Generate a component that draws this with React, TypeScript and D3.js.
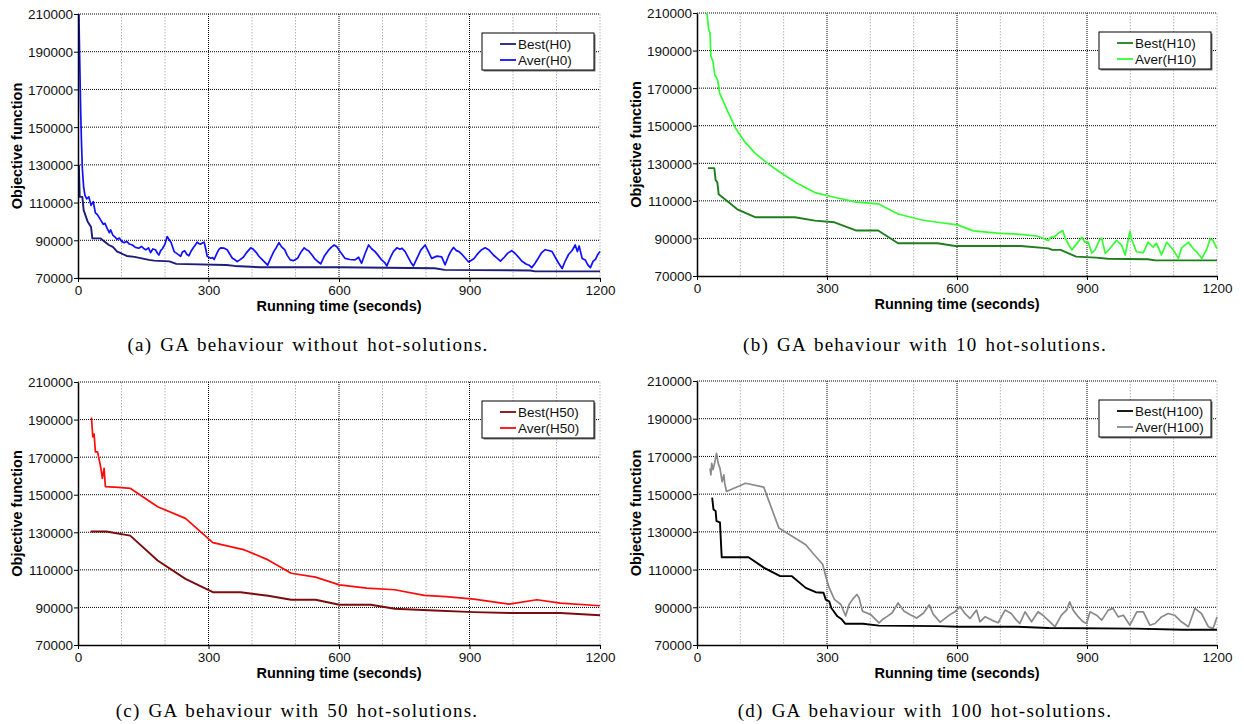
import React, { useEffect, useRef } from "react";
import * as d3 from "d3";

type Pt = [number, number];

// running time (s) vs objective value
const bestH0: Pt[] = [[2,130000],[4,113000],[10,113000],[13,106000],[22,100000],[30,97000],[33,91000],[52,91000],[60,89500],[71,87500],[80,86500],[90,84000],[100,83000],[112,81700],[130,81200],[163,79600],[175,79200],[210,78800],[226,77500],[341,76900],[360,76400],[418,75700],[600,75700],[820,75200],[843,74300],[1040,74000],[1051,73500],[1200,73500]];
const averH0: Pt[] = [[2,210000],[4,185000],[6,160000],[8,142000],[10,128000],[13,118000],[16,114000],[20,112000],[25,113000],[30,108500],[35,110500],[40,104500],[45,103500],[52,100800],[58,98500],[62,99000],[67,96300],[72,94000],[75,95500],[80,92800],[86,91500],[90,90500],[95,91200],[100,89500],[106,88700],[112,89400],[118,88000],[125,87500],[132,86200],[140,85800],[146,86800],[152,85500],[156,84900],[162,86000],[167,83500],[172,85400],[178,85000],[183,83000],[186,82200],[190,84500],[194,85500],[200,88000],[205,92000],[209,90500],[214,88800],[221,84000],[226,83200],[230,82500],[236,81500],[240,83800],[245,84500],[250,82600],[255,81800],[260,84200],[265,86000],[270,87600],[274,89000],[278,88200],[282,88000],[286,88600],[290,89000],[294,85000],[297,81500],[305,80500],[310,80800],[313,79800],[320,83500],[324,85200],[328,86000],[336,85800],[343,85000],[348,83000],[355,80500],[360,79800],[366,78700],[372,79600],[380,81000],[388,83600],[397,86000],[403,85200],[410,83500],[415,81800],[420,80500],[428,78700],[436,76800],[443,80500],[450,84000],[456,86200],[462,88700],[468,86500],[475,85000],[481,82000],[488,79600],[495,79200],[505,80500],[512,83500],[520,86000],[525,85000],[530,84500],[538,82200],[545,80000],[552,78600],[558,77500],[566,81500],[575,84500],[582,86200],[589,87500],[595,86600],[605,83200],[614,80400],[625,79800],[637,79600],[645,81000],[652,77800],[660,83000],[668,87500],[675,85500],[683,84000],[690,82000],[698,79600],[705,78200],[710,76400],[718,80800],[725,84000],[733,86000],[740,85200],[745,85800],[752,84000],[760,80500],[765,78400],[771,76400],[780,80800],[788,84800],[798,87500],[805,84200],[813,80400],[825,81600],[836,81200],[844,77000],[852,81800],[858,84500],[863,86200],[870,84500],[876,84000],[882,82700],[890,80600],[898,78500],[910,80200],[920,83200],[928,85000],[936,86000],[945,84800],[955,82200],[962,80800],[971,79000],[980,81000],[988,83200],[997,84500],[1005,83000],[1012,81200],[1020,79000],[1030,77400],[1037,76800],[1043,75500],[1050,77600],[1058,80500],[1066,83500],[1074,85000],[1082,84600],[1090,84000],[1097,81000],[1105,77800],[1113,75000],[1120,79000],[1128,82600],[1136,84600],[1143,87500],[1148,84000],[1152,87000],[1159,80400],[1166,79600],[1172,77000],[1178,75500],[1184,78800],[1190,80000],[1195,82500],[1200,84000]];

const bestH10: Pt[] = [[25,127400],[40,127400],[43,121000],[47,119800],[50,113500],[93,105500],[134,101300],[226,101300],[272,99500],[317,98600],[368,94200],[418,94200],[464,87400],[555,87400],[596,86000],[747,86000],[811,84700],[820,83900],[839,83900],[875,80300],[921,79800],[948,79200],[1040,78900],[1058,78300],[1200,78300]];
const averH10: Pt[] = [[23,210000],[27,201000],[30,199500],[32,187000],[35,185500],[37,184000],[41,177000],[45,175500],[48,174000],[52,167500],[70,158000],[89,148700],[110,141500],[134,135400],[160,130500],[189,125600],[230,119500],[272,114400],[317,111900],[368,109300],[418,108400],[464,103000],[519,99800],[555,98600],[601,97200],[638,94000],[699,92700],[745,92200],[784,91300],[800,90000],[811,88800],[816,90600],[825,90800],[834,92800],[844,94200],[849,90600],[858,86500],[865,83900],[876,87100],[888,90600],[895,88000],[903,88000],[911,82100],[918,83700],[930,89600],[934,90100],[942,82100],[950,83800],[968,89000],[980,86400],[988,81200],[999,93700],[1003,89600],[1014,82900],[1030,82400],[1041,88000],[1053,85300],[1060,87500],[1072,81200],[1084,88000],[1099,83900],[1111,79400],[1118,84800],[1134,88000],[1145,84600],[1153,82900],[1165,79400],[1176,84100],[1184,89600],[1190,89200],[1200,84600]];

const bestH50: Pt[] = [[29,130400],[65,130400],[120,128200],[183,115000],[247,105200],[310,98100],[374,98100],[437,96200],[490,94100],[546,94100],[601,91400],[673,91400],[728,89300],[819,88400],[910,87500],[1000,87000],[1109,87000],[1200,85800]];
const averH50: Pt[] = [[31,191100],[34,180800],[37,182300],[40,172800],[45,172800],[52,164900],[56,158700],[60,164000],[63,154300],[93,153900],[120,153400],[183,143600],[247,137400],[310,124500],[383,120600],[437,115300],[490,108200],[546,106100],[601,102000],[664,100300],[728,99400],[796,96400],[846,95800],[910,94400],[991,91800],[1055,94100],[1109,92300],[1200,90900]];

const bestH100: Pt[] = [[35,148100],[38,141900],[43,141000],[45,135700],[53,135000],[57,116500],[119,116500],[155,110900],[192,106500],[219,106500],[251,100300],[274,98000],[292,97700],[297,94100],[305,93200],[310,89600],[324,85200],[333,83800],[342,81300],[383,81300],[420,80300],[557,80000],[602,79700],[739,79700],[812,79000],[1013,78700],[1122,78100],[1200,78100]];
const averH100: Pt[] = [[30,163700],[32,160200],[34,166300],[37,163000],[41,166800],[45,171600],[49,166300],[53,163700],[58,156600],[62,160200],[64,155800],[68,151400],[112,155800],[154,153700],[189,132000],[251,123200],[270,118000],[290,112800],[297,106600],[305,100400],[317,94200],[332,91500],[343,85400],[351,91500],[359,94200],[369,96800],[374,95000],[382,87900],[401,86100],[420,81700],[428,83500],[439,85200],[450,87000],[464,92300],[478,87900],[492,86100],[507,84300],[523,87000],[536,91300],[545,86400],[561,82100],[584,86100],[595,87600],[607,90300],[618,86800],[630,84100],[645,88500],[653,82300],[665,85000],[680,83200],[695,81800],[711,88500],[725,86700],[737,83200],[745,81400],[757,87600],[772,82300],[787,87600],[798,85800],[810,83200],[826,79700],[841,85800],[853,88500],[860,92900],[868,88500],[880,84900],[891,82300],[899,81400],[907,87600],[922,85800],[934,83200],[949,88500],[960,89400],[972,84900],[984,85800],[999,80500],[1015,87600],[1030,87600],[1045,80500],[1057,81400],[1072,84900],[1087,86700],[1102,85800],[1118,82300],[1134,79700],[1149,89400],[1164,86700],[1180,79700],[1191,78800],[1200,84900]];

const xTicks = [0, 300, 600, 900, 1200];
const xMinor = [100, 200, 400, 500, 700, 800, 1000, 1100, 1200];
const yTicks = [70000, 90000, 110000, 130000, 150000, 170000, 190000, 210000];

const panels = [
  { box: [78, 600, 14, 278], best: bestH0, aver: averH0, labels: ["Best(H0)", "Aver(H0)"], colors: ["#1c1c7c", "#1010ff"], caption: "(a) GA behaviour without hot-solutions.", capX: 308, capY: 351 },
  { box: [697, 1217, 13, 276], best: bestH10, aver: averH10, labels: ["Best(H10)", "Aver(H10)"], colors: ["#1e7e1e", "#33ff33"], caption: "(b) GA behaviour with 10 hot-solutions.", capX: 925, capY: 351 },
  { box: [78, 600, 382, 645], best: bestH50, aver: averH50, labels: ["Best(H50)", "Aver(H50)"], colors: ["#7c0c0c", "#ff0a0a"], caption: "(c) GA behaviour with 50 hot-solutions.", capX: 297, capY: 717 },
  { box: [697, 1217, 381, 645], best: bestH100, aver: averH100, labels: ["Best(H100)", "Aver(H100)"], colors: ["#000000", "#8a8a8a"], caption: "(d) GA behaviour with 100 hot-solutions.", capX: 925, capY: 717 },
];

const sans = "Liberation Sans, Arial, sans-serif";

const App = () => {
  const svgRef = useRef<SVGSVGElement>(null);

  useEffect(() => {
    const svg = d3.select(svgRef.current);
    svg.selectAll("*").remove();

    panels.forEach((p) => {
      const [x0, x1, y0, y1] = p.box;
      const x = d3.scaleLinear().domain([0, 1200]).range([x0, x1]);
      const y = d3.scaleLinear().domain([70000, 210000]).range([y1, y0]);
      const g = svg.append("g");

      // minor vertical grid
      g.selectAll("line.minor")
        .data(xMinor)
        .enter()
        .append("line")
        .attr("x1", (d) => x(d)).attr("x2", (d) => x(d))
        .attr("y1", y0).attr("y2", y1)
        .attr("stroke", "#b4b4b4").attr("stroke-width", 1)
        .attr("stroke-dasharray", "1.5,1.5");

      // major vertical grid
      g.selectAll("line.vmaj")
        .data([300, 600, 900])
        .enter()
        .append("line")
        .attr("x1", (d) => x(d)).attr("x2", (d) => x(d))
        .attr("y1", y0).attr("y2", y1)
        .attr("stroke", "#000").attr("stroke-width", 1)
        .attr("stroke-dasharray", "1,1");

      // horizontal grid
      g.selectAll("line.h")
        .data(yTicks.slice(1))
        .enter()
        .append("line")
        .attr("x1", x0).attr("x2", x1)
        .attr("y1", (d) => y(d)).attr("y2", (d) => y(d))
        .attr("stroke", "#000").attr("stroke-width", 1)
        .attr("stroke-dasharray", "1,1");

      const line = d3
        .line<Pt>()
        .x((d) => x(d[0]))
        .y((d) => y(d[1]));

      g.append("path").datum(p.aver).attr("d", line)
        .attr("fill", "none").attr("stroke", p.colors[1]).attr("stroke-width", 1.7)
        .attr("stroke-linejoin", "round");
      g.append("path").datum(p.best).attr("d", line)
        .attr("fill", "none").attr("stroke", p.colors[0]).attr("stroke-width", 1.9)
        .attr("stroke-linejoin", "round");

      // axes
      const ax = g.append("g").attr("transform", `translate(0,${y1})`)
        .call(d3.axisBottom(x).tickValues(xTicks).tickSize(4).tickSizeOuter(0).tickFormat(d3.format("d")));
      const ay = g.append("g").attr("transform", `translate(${x0},0)`)
        .call(d3.axisLeft(y).tickValues(yTicks).tickSize(4).tickSizeOuter(0).tickFormat(d3.format("d")));
      [ax, ay].forEach((a) => {
        a.select(".domain").attr("stroke", "#000").attr("stroke-width", 1.5);
        a.selectAll("text").attr("font-family", sans).attr("font-size", 13.5).attr("fill", "#111");
      });
      ay.selectAll("text").attr("dy", "0.36em").attr("x", -5);
      ax.selectAll("text").attr("y", 7);

      // axis titles
      g.append("text")
        .attr("x", (x0 + x1) / 2).attr("y", y1 + 33)
        .attr("text-anchor", "middle")
        .attr("font-family", sans).attr("font-weight", "bold").attr("font-size", 14.5)
        .text("Running time (seconds)");
      g.append("text")
        .attr("transform", `translate(${x0 - 56},${(y0 + y1) / 2}) rotate(-90)`)
        .attr("text-anchor", "middle")
        .attr("font-family", sans).attr("font-weight", "bold").attr("font-size", 14.5)
        .text("Objective function");

      // legend
      const lx = x1 - 118, ly = y0 + 19, lw = 112, lh = 37;
      g.append("rect").attr("x", lx + 1.5).attr("y", ly + 1.5).attr("width", lw).attr("height", lh).attr("fill", "#777");
      g.append("rect").attr("x", lx).attr("y", ly).attr("width", lw).attr("height", lh)
        .attr("fill", "#fff").attr("stroke", "#000").attr("stroke-width", 1);
      p.labels.forEach((lab, i) => {
        const cy = ly + 11 + i * 16;
        g.append("line").attr("x1", lx + 18).attr("x2", lx + 34).attr("y1", cy).attr("y2", cy)
          .attr("stroke", p.colors[i]).attr("stroke-width", 1.8);
        g.append("text").attr("x", lx + 36).attr("y", cy).attr("dy", "0.36em")
          .attr("font-family", sans).attr("font-size", 13.5).attr("fill", "#111")
          .text(lab);
      });

      // caption
      g.append("text")
        .attr("x", p.capX).attr("y", p.capY)
        .attr("text-anchor", "middle")
        .attr("font-family", "Liberation Serif, serif").attr("font-size", 19)
        .attr("letter-spacing", 1.25)
        .attr("word-spacing", 2)
        .text(p.caption);
    });
  }, []);

  return (
    <svg
      ref={svgRef}
      width={1244}
      height={724}
      style={{ position: "absolute", left: 0, top: 0, background: "#fff" }}
    />
  );
};

export default App;
